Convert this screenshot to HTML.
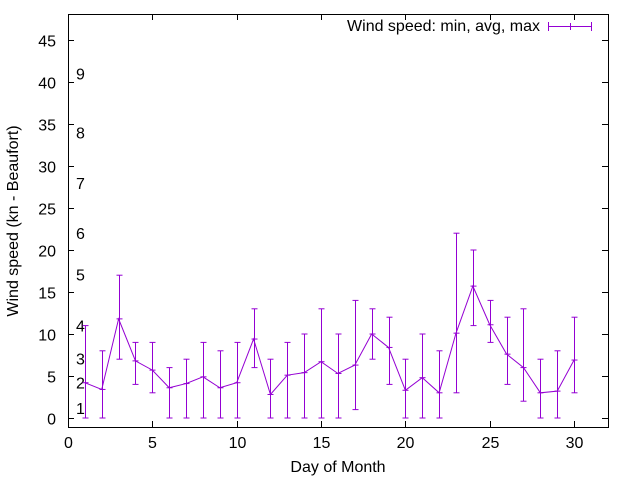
<!DOCTYPE html>
<html><head><meta charset="utf-8"><style>body{margin:0;background:#fff}svg{display:block;font-family:"Liberation Sans",sans-serif}</style></head>
<body>
<svg id="chart" width="640" height="480" viewBox="0 0 640 480">
<rect x="68.5" y="14.5" width="540" height="413" fill="none" stroke="#000"/>
<g id="axes"></g>
<g id="beaufort"></g>
<g id="series"></g>
<text x="338" y="472" font-size="16" text-anchor="middle">Day of Month</text>
<text transform="translate(18,221) rotate(-90)" font-size="16" text-anchor="middle">Wind speed (kn - Beaufort)</text>
<g>
<text x="540" y="31" font-size="16" text-anchor="end">Wind speed: min, avg, max</text>
<line x1="548" y1="26.5" x2="592" y2="26.5" stroke="#9400d3"/>
<line x1="548.5" y1="22" x2="548.5" y2="31" stroke="#9400d3"/>
<line x1="591.5" y1="22" x2="591.5" y2="31" stroke="#9400d3"/>
<line x1="570.5" y1="23" x2="570.5" y2="30" stroke="#9400d3"/>
</g>
</svg>
<script>
const days=[1,2,3,4,5,6,7,8,9,10,11,12,13,14,15,16,17,18,19,20,21,22,23,24,25,26,27,28,29,30];
const avgs=[4.2,3.4,11.8,6.8,5.7,3.6,4.1,4.9,3.6,4.2,9.4,2.8,5.1,5.4,6.7,5.3,6.3,10,8.4,3.3,4.8,3,10.1,15.7,11.1,7.6,6,3,3.2,6.9];
const mins=[0,0,7,4,3,0,0,0,0,0,6,0,0,0,0,0,1,7,4,0,0,0,3,11,9,4,2,0,0,3];
const maxs=[11,8,17,9,9,6,7,9,8,9,13,7,9,10,13,10,14,13,12,7,10,8,22,20,14,12,13,7,8,12];
const xTicks=[0,5,10,15,20,25,30];
const yTicks=[0,5,10,15,20,25,30,35,40,45];
const bftLabels=["1","2","3","4","5","6","7","8","9"];
const bftVals=[1.2,4.2,7.1,11,17.1,22,28,34,41];
const NS="http://www.w3.org/2000/svg";
const X=v=>68+v*16.87, Y=v=>418-v*8.4;
function mk(t,a,p){const e=document.createElementNS(NS,t);for(const k in a)e.setAttribute(k,a[k]);p.appendChild(e);return e;}
const ax=document.getElementById('axes');
xTicks.forEach(t=>{const x=Math.round(X(t))+0.5;
 mk('line',{x1:x,y1:427,x2:x,y2:421,stroke:'#000'},ax);
 mk('line',{x1:x,y1:14,x2:x,y2:20,stroke:'#000'},ax);
 const tx=mk('text',{x:x,y:448,'font-size':16,'text-anchor':'middle'},ax);tx.textContent=t;
 
 });
yTicks.forEach(t=>{const y=Math.round(Y(t))+0.5;
 mk('line',{x1:68,y1:y,x2:74,y2:y,stroke:'#000'},ax);
 mk('line',{x1:608,y1:y,x2:602,y2:y,stroke:'#000'},ax);
 const tx=mk('text',{x:56,y:y+6,'font-size':16,'text-anchor':'end'},ax);tx.textContent=t;
 
 });
const bg=document.getElementById('beaufort');
bftLabels.forEach((l,i)=>{const tx=mk('text',{x:76,y:Y(bftVals[i])+6,'font-size':16},bg);tx.textContent=l;
 
 });
const sg=document.getElementById('series');
const c='#9400d3';
mk('polyline',{points:days.map((d,i)=>X(d)+','+Y(avgs[i])).join(' '),fill:'none',stroke:c},sg);
days.forEach((d,i)=>{const x=Math.round(X(d))+0.5;
 const g=mk('g',{},sg);
 
 
 mk('line',{x1:x,y1:Y(mins[i]),x2:x,y2:Y(maxs[i]),stroke:c},g);
 mk('line',{x1:x-3,y1:Y(mins[i]),x2:x+3,y2:Y(mins[i]),stroke:c},g);
 mk('line',{x1:x-3,y1:Y(maxs[i]),x2:x+3,y2:Y(maxs[i]),stroke:c},g);
 mk('line',{x1:x-3,y1:Y(avgs[i]),x2:x+3,y2:Y(avgs[i]),stroke:c},g);});
</script>
</body></html>
